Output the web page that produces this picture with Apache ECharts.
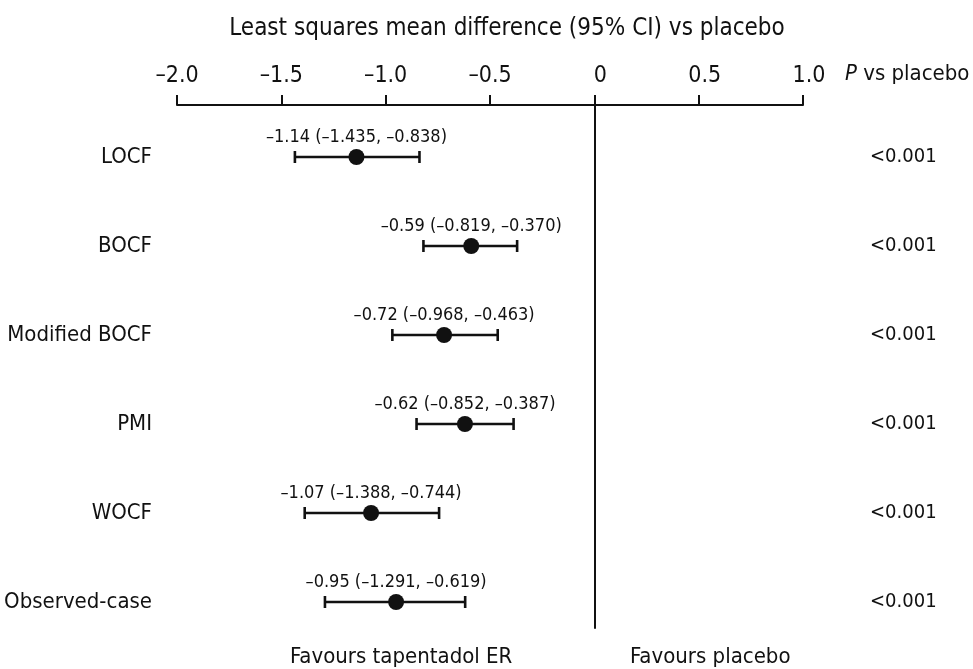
<!DOCTYPE html>
<html>
<head>
<meta charset="utf-8">
<script src="https://cdn.jsdelivr.net/npm/echarts@6/dist/echarts.min.js"></script>
<style>
  html, body { margin: 0; padding: 0; background: #fff; }
  #chart { width: 973px; height: 669px; }
</style>
</head>
<body>
<div id="chart"></div>
<script>
// analysis methods, top to bottom
var methods = ['LOCF', 'BOCF', 'Modified BOCF', 'PMI', 'WOCF', 'Observed-case'];
var lsMean = [-1.14, -0.59, -0.72, -0.62, -1.07, -0.95];
var ciLow  = [-1.435, -0.819, -0.968, -0.852, -1.388, -1.291];
var ciHigh = [-0.838, -0.370, -0.463, -0.387, -0.744, -0.619];
var pValues = ['<0.001', '<0.001', '<0.001', '<0.001', '<0.001', '<0.001'];

var FONT = '"Liberation Sans Narrow", "DejaVu Sans Condensed", "Liberation Sans", sans-serif';
var INK = '#111';

function num(v, d) {
  // en dash for negatives, like the printed figure
  return (v < 0 ? '\u2013' : '') + Math.abs(v).toFixed(d);
}

function txt(size) {
  return { fontFamily: FONT, fontSize: size, fontWeight: 'normal', color: INK };
}

var chart = echarts.init(document.getElementById('chart'));

var option = {
  animation: false,
  title: [
    {
      text: 'Least squares mean difference (95% CI) vs placebo',
      left: 507, top: 17, padding: 0, textAlign: 'center',
      textStyle: txt(24)
    },
    {
      text: '{i|P}{n| vs placebo}',
      left: 845, top: 63, padding: 0,
      textStyle: Object.assign(txt(22), {
        rich: {
          i: { fontFamily: FONT, fontSize: 22, fontStyle: 'italic', color: INK },
          n: { fontFamily: FONT, fontSize: 22, color: INK }
        }
      })
    },
    {
      text: 'Favours tapentadol ER',
      left: 290, top: 646, padding: 0,
      textStyle: txt(22)
    },
    {
      text: 'Favours placebo',
      left: 630, top: 646, padding: 0,
      textStyle: txt(22)
    }
  ],
  grid: [
    // axis + zero line
    { left: 177, right: 170, top: 105, bottom: 41 },
    // rows
    { left: 177, right: 170, top: 157, bottom: 67 }
  ],
  xAxis: [
    {
      gridIndex: 0,
      type: 'value',
      position: 'top',
      min: -2, max: 1, interval: 0.5,
      axisLine: { show: true, onZero: false, lineStyle: { color: INK, width: 2 } },
      axisTick: { show: true, length: 10, lineStyle: { color: INK, width: 2 } },
      splitLine: { show: false },
      axisLabel: {
        margin: 17,
        fontFamily: FONT, fontSize: 23, color: INK,
        formatter: function (v) {
          // non-negative labels sit a little right, as if a minus were reserved
          return v < 0 ? num(v, 1) : '{p|' + (v === 0 ? '0' : num(v, 1)) + '}';
        },
        rich: { p: { fontFamily: FONT, fontSize: 23, color: INK, padding: [0, 0, 0, 12] } }
      }
    },
    {
      gridIndex: 1,
      type: 'value',
      min: -2, max: 1,
      show: false
    }
  ],
  yAxis: [
    {
      gridIndex: 0,
      type: 'value',
      min: 0, max: 1,
      axisLine: { show: true, onZero: true, lineStyle: { color: INK, width: 2 } },
      axisTick: { show: false },
      axisLabel: { show: false },
      splitLine: { show: false }
    },
    {
      gridIndex: 1,
      type: 'category',
      data: methods,
      inverse: true,
      boundaryGap: false,
      position: 'left',
      axisLine: { show: false },
      axisTick: { show: false },
      splitLine: { show: false },
      axisLabel: { margin: 25, fontFamily: FONT, fontSize: 22, color: INK }
    },
    {
      gridIndex: 1,
      type: 'category',
      data: pValues.map(function (p, i) { return i + ''; }),
      inverse: true,
      boundaryGap: false,
      position: 'right',
      axisLine: { show: false },
      axisTick: { show: false },
      splitLine: { show: false },
      axisLabel: {
        margin: 67, fontFamily: FONT, fontSize: 20, color: INK,
        formatter: function (v, i) { return pValues[i]; }
      }
    }
  ],
  series: [
    {
      type: 'custom',
      xAxisIndex: 1, yAxisIndex: 1,
      data: methods.map(function (m, i) { return [ciLow[i], ciHigh[i], i]; }),
      renderItem: function (params, api) {
        var a = api.coord([api.value(0), api.value(2)]);
        var b = api.coord([api.value(1), api.value(2)]);
        var h = 6;
        var style = { stroke: INK, lineWidth: 2.6 };
        return {
          type: 'group',
          children: [
            { type: 'line', shape: { x1: a[0], y1: a[1], x2: b[0], y2: b[1] }, style: style },
            { type: 'line', shape: { x1: a[0], y1: a[1] - h, x2: a[0], y2: a[1] + h }, style: style },
            { type: 'line', shape: { x1: b[0], y1: b[1] - h, x2: b[0], y2: b[1] + h }, style: style }
          ]
        };
      },
      z: 2
    },
    {
      type: 'scatter',
      xAxisIndex: 1, yAxisIndex: 1,
      symbol: 'circle',
      symbolSize: 16,
      itemStyle: { color: INK, opacity: 1 },
      data: methods.map(function (m, i) { return [lsMean[i], i]; }),
      label: {
        show: true,
        position: 'top',
        distance: 3,
        fontFamily: FONT, fontSize: 18, color: INK,
        formatter: function (p) {
          var i = p.dataIndex;
          return num(lsMean[i], 2) + ' (' + num(ciLow[i], 3) + ', ' + num(ciHigh[i], 3) + ')';
        }
      },
      z: 3
    }
  ]
};

chart.setOption(option);
</script>
</body>
</html>
